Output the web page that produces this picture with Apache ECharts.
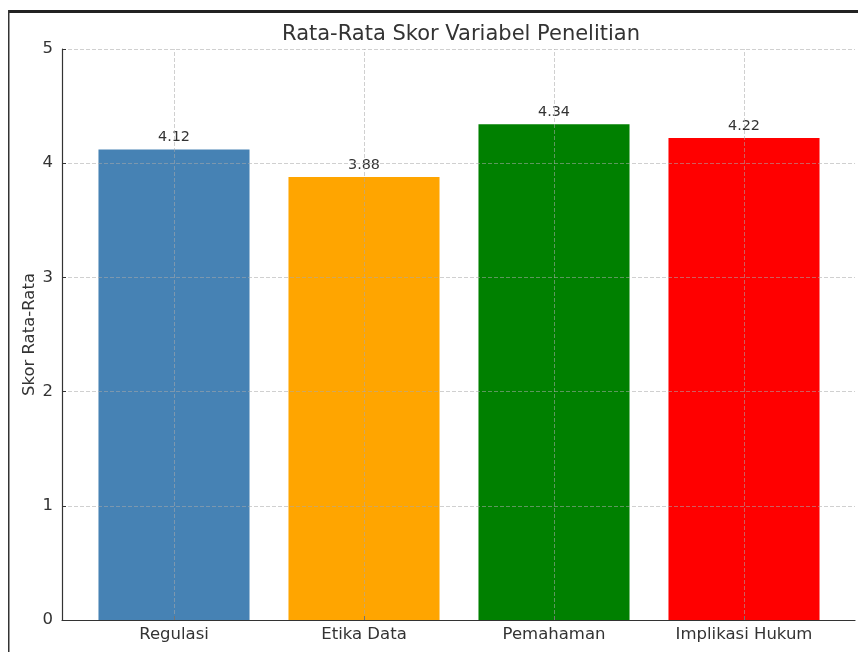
<!DOCTYPE html>
<html><head><meta charset="utf-8">
<script src="https://cdn.jsdelivr.net/npm/echarts@6/dist/echarts.min.js"></script>
<style>html,body{margin:0;padding:0;background:#fff}#c{width:858px;height:652px}</style>
</head><body><div id="c"></div>
<script>
const categories = ['Regulasi', 'Etika Data', 'Pemahaman', 'Implikasi Hukum'];
const values = [4.12, 3.88, 4.34, 4.22];
const barColors = ['#4682B4', '#FFA500', '#008000', '#FF0000'];
const yTicks = [0, 1, 2, 3, 4, 5];
const titleText = 'Rata-Rata Skor Variabel Penelitian';
const yAxisTitle = 'Skor Rata-Rata';

const FONT = 'DejaVu Sans';
const TXT = '#333';
const GRIDC = 'rgba(170,170,170,0.55)';
const chart = echarts.init(document.getElementById('c'), null, {renderer: 'canvas'});
const option = {
  animation: false,
  backgroundColor: '#fff',
  textStyle: {fontFamily: FONT},
  title: {
    text: titleText, left: 277, top: 19,
    textStyle: {fontFamily: FONT, fontSize: 21, fontWeight: 'normal', color: TXT}
  },
  graphic: [
    {type: 'rect', shape: {x: 8, y: 10, width: 850, height: 3}, style: {fill: '#222'}, z: 100},
    {type: 'rect', shape: {x: 8, y: 10, width: 1.5, height: 642}, style: {fill: '#333'}, z: 100}
  ],
  grid: [
    {left: 62, top: 49, width: 793, height: 571},
    {left: 79, top: 49, width: 760, height: 571}
  ],
  xAxis: [
    {gridIndex: 0, type: 'value', min: 0, max: 1,
     axisLine: {show: true, lineStyle: {color: TXT, width: 1.2}},
     axisTick: {show: false}, axisLabel: {show: false}, splitLine: {show: false}, z: 4},
    {gridIndex: 1, type: 'category', data: categories,
     axisLine: {show: false},
     axisTick: {show: true, inside: true, alignWithLabel: true, length: 4, lineStyle: {color: TXT}},
     axisLabel: {fontFamily: FONT, fontSize: 16.5, color: TXT, margin: 6},
     splitLine: {show: false}, z: 4}
  ],
  yAxis: [
    {gridIndex: 0, type: 'value', min: yTicks[0], max: yTicks[yTicks.length - 1], interval: 1,
     name: yAxisTitle, nameLocation: 'middle', nameGap: 24, nameMoveOverlap: false,
     nameTextStyle: {fontFamily: FONT, fontSize: 16.5, color: TXT},
     axisLine: {show: true, lineStyle: {color: TXT, width: 1.2}},
     axisTick: {show: true, inside: true, length: 4, lineStyle: {color: TXT}},
     axisLabel: {fontFamily: FONT, fontSize: 16.5, color: TXT, margin: 9},
     splitLine: {show: true, lineStyle: {color: GRIDC, type: [4, 2], width: 1}}, z: 3},
    {gridIndex: 1, type: 'value', min: yTicks[0], max: yTicks[yTicks.length - 1], interval: 1,
     axisLine: {show: false}, axisTick: {show: false}, axisLabel: {show: false}, splitLine: {show: false}}
  ],
  series: [{
    type: 'bar', xAxisIndex: 1, yAxisIndex: 1, barWidth: '79.5%',
    data: values.map((v, i) => ({value: v, itemStyle: {color: barColors[i]}})),
    label: {show: true, position: 'top', distance: 5, formatter: p => p.value.toFixed(2),
            fontFamily: FONT, fontSize: 14.4, color: TXT},
    markLine: {
      silent: true, symbol: 'none', label: {show: false},
      lineStyle: {color: GRIDC, type: [4, 2], width: 1},
      data: categories.map(c => ({xAxis: c}))
    }
  }]
};
chart.setOption(option);
</script></body></html>
